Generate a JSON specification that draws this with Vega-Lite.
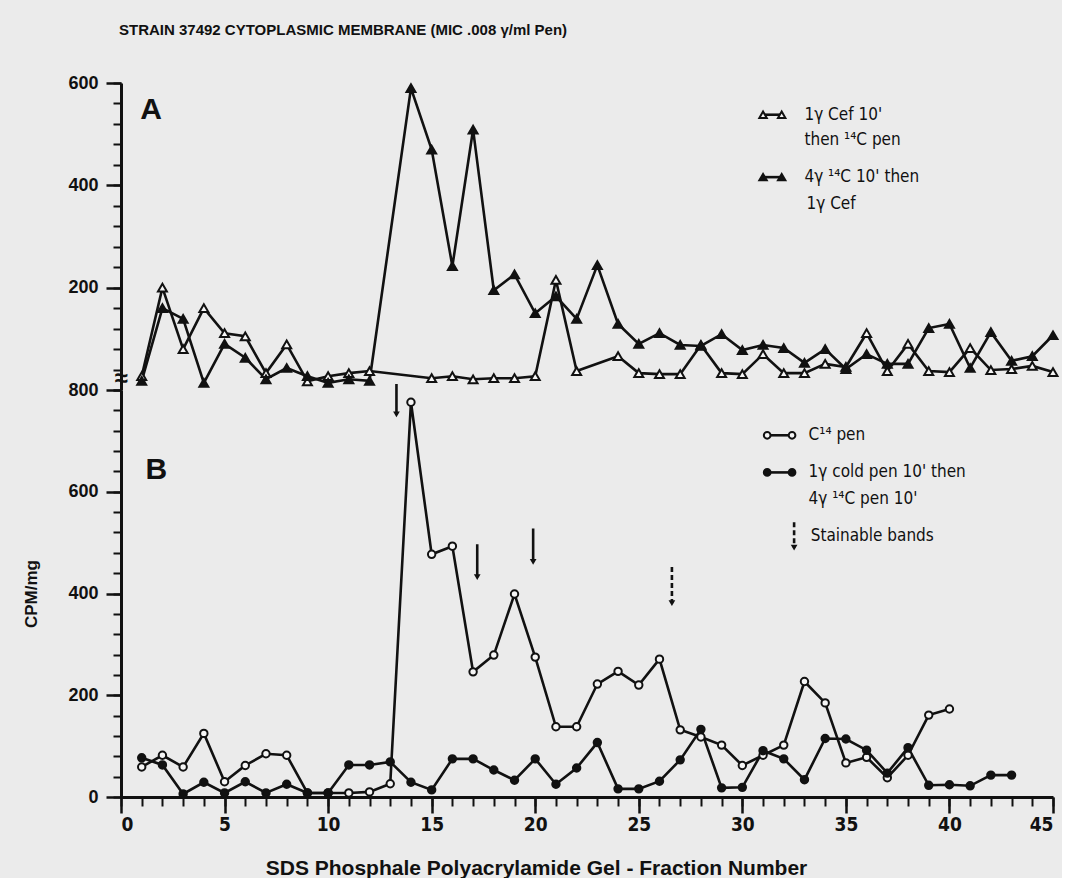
{
  "$schema": "https://vega.github.io/schema/vega-lite/v6.json",
  "background": "#ebebeb",
  "padding": {"left": 22, "top": 23, "right": 0, "bottom": 0},
  "bounds": "flush",
  "title": {
    "text": "STRAIN 37492 CYTOPLASMIC MEMBRANE (MIC .008 γ/ml Pen)",
    "anchor": "start",
    "font": "Liberation Sans, sans-serif",
    "fontSize": 15,
    "fontWeight": "bold",
    "color": "#111",
    "offset": 36,
    "dx": 96
  },
  "config": {
    "view": {"stroke": null},
    "axis": {"grid": false, "domainColor": "#111", "tickColor": "#111", "labelColor": "#111", "titleColor": "#111"}
  },
  "datasets": {
    "A": [
      {"fraction": 1, "cpm": 27, "series": "1γ Cef 10' then 14C pen"},
      {"fraction": 2, "cpm": 200, "series": "1γ Cef 10' then 14C pen"},
      {"fraction": 3, "cpm": 80, "series": "1γ Cef 10' then 14C pen"},
      {"fraction": 4, "cpm": 160, "series": "1γ Cef 10' then 14C pen"},
      {"fraction": 5, "cpm": 111, "series": "1γ Cef 10' then 14C pen"},
      {"fraction": 6, "cpm": 105, "series": "1γ Cef 10' then 14C pen"},
      {"fraction": 7, "cpm": 33, "series": "1γ Cef 10' then 14C pen"},
      {"fraction": 8, "cpm": 89, "series": "1γ Cef 10' then 14C pen"},
      {"fraction": 9, "cpm": 17, "series": "1γ Cef 10' then 14C pen"},
      {"fraction": 10, "cpm": 27, "series": "1γ Cef 10' then 14C pen"},
      {"fraction": 11, "cpm": 33, "series": "1γ Cef 10' then 14C pen"},
      {"fraction": 12, "cpm": 37, "series": "1γ Cef 10' then 14C pen"},
      {"fraction": 15, "cpm": 23, "series": "1γ Cef 10' then 14C pen"},
      {"fraction": 16, "cpm": 27, "series": "1γ Cef 10' then 14C pen"},
      {"fraction": 17, "cpm": 21, "series": "1γ Cef 10' then 14C pen"},
      {"fraction": 18, "cpm": 23, "series": "1γ Cef 10' then 14C pen"},
      {"fraction": 19, "cpm": 23, "series": "1γ Cef 10' then 14C pen"},
      {"fraction": 20, "cpm": 27, "series": "1γ Cef 10' then 14C pen"},
      {"fraction": 21, "cpm": 215, "series": "1γ Cef 10' then 14C pen"},
      {"fraction": 22, "cpm": 37, "series": "1γ Cef 10' then 14C pen"},
      {"fraction": 24, "cpm": 66, "series": "1γ Cef 10' then 14C pen"},
      {"fraction": 25, "cpm": 33, "series": "1γ Cef 10' then 14C pen"},
      {"fraction": 26, "cpm": 31, "series": "1γ Cef 10' then 14C pen"},
      {"fraction": 27, "cpm": 31, "series": "1γ Cef 10' then 14C pen"},
      {"fraction": 28, "cpm": 88, "series": "1γ Cef 10' then 14C pen"},
      {"fraction": 29, "cpm": 33, "series": "1γ Cef 10' then 14C pen"},
      {"fraction": 30, "cpm": 31, "series": "1γ Cef 10' then 14C pen"},
      {"fraction": 31, "cpm": 70, "series": "1γ Cef 10' then 14C pen"},
      {"fraction": 32, "cpm": 33, "series": "1γ Cef 10' then 14C pen"},
      {"fraction": 33, "cpm": 33, "series": "1γ Cef 10' then 14C pen"},
      {"fraction": 34, "cpm": 51, "series": "1γ Cef 10' then 14C pen"},
      {"fraction": 35, "cpm": 45, "series": "1γ Cef 10' then 14C pen"},
      {"fraction": 36, "cpm": 111, "series": "1γ Cef 10' then 14C pen"},
      {"fraction": 37, "cpm": 37, "series": "1γ Cef 10' then 14C pen"},
      {"fraction": 38, "cpm": 90, "series": "1γ Cef 10' then 14C pen"},
      {"fraction": 39, "cpm": 37, "series": "1γ Cef 10' then 14C pen"},
      {"fraction": 40, "cpm": 35, "series": "1γ Cef 10' then 14C pen"},
      {"fraction": 41, "cpm": 82, "series": "1γ Cef 10' then 14C pen"},
      {"fraction": 42, "cpm": 39, "series": "1γ Cef 10' then 14C pen"},
      {"fraction": 43, "cpm": 41, "series": "1γ Cef 10' then 14C pen"},
      {"fraction": 44, "cpm": 47, "series": "1γ Cef 10' then 14C pen"},
      {"fraction": 45, "cpm": 35, "series": "1γ Cef 10' then 14C pen"},
      {"fraction": 1, "cpm": 18, "series": "4γ 14C 10' then 1γ Cef"},
      {"fraction": 2, "cpm": 160, "series": "4γ 14C 10' then 1γ Cef"},
      {"fraction": 3, "cpm": 139, "series": "4γ 14C 10' then 1γ Cef"},
      {"fraction": 4, "cpm": 14, "series": "4γ 14C 10' then 1γ Cef"},
      {"fraction": 5, "cpm": 90, "series": "4γ 14C 10' then 1γ Cef"},
      {"fraction": 6, "cpm": 63, "series": "4γ 14C 10' then 1γ Cef"},
      {"fraction": 7, "cpm": 21, "series": "4γ 14C 10' then 1γ Cef"},
      {"fraction": 8, "cpm": 43, "series": "4γ 14C 10' then 1γ Cef"},
      {"fraction": 9, "cpm": 27, "series": "4γ 14C 10' then 1γ Cef"},
      {"fraction": 10, "cpm": 14, "series": "4γ 14C 10' then 1γ Cef"},
      {"fraction": 11, "cpm": 21, "series": "4γ 14C 10' then 1γ Cef"},
      {"fraction": 12, "cpm": 18, "series": "4γ 14C 10' then 1γ Cef"},
      {"fraction": 14, "cpm": 590, "series": "4γ 14C 10' then 1γ Cef"},
      {"fraction": 15, "cpm": 470, "series": "4γ 14C 10' then 1γ Cef"},
      {"fraction": 16, "cpm": 242, "series": "4γ 14C 10' then 1γ Cef"},
      {"fraction": 17, "cpm": 509, "series": "4γ 14C 10' then 1γ Cef"},
      {"fraction": 18, "cpm": 195, "series": "4γ 14C 10' then 1γ Cef"},
      {"fraction": 19, "cpm": 226, "series": "4γ 14C 10' then 1γ Cef"},
      {"fraction": 20, "cpm": 150, "series": "4γ 14C 10' then 1γ Cef"},
      {"fraction": 21, "cpm": 183, "series": "4γ 14C 10' then 1γ Cef"},
      {"fraction": 22, "cpm": 139, "series": "4γ 14C 10' then 1γ Cef"},
      {"fraction": 23, "cpm": 244, "series": "4γ 14C 10' then 1γ Cef"},
      {"fraction": 24, "cpm": 129, "series": "4γ 14C 10' then 1γ Cef"},
      {"fraction": 25, "cpm": 90, "series": "4γ 14C 10' then 1γ Cef"},
      {"fraction": 26, "cpm": 111, "series": "4γ 14C 10' then 1γ Cef"},
      {"fraction": 27, "cpm": 88, "series": "4γ 14C 10' then 1γ Cef"},
      {"fraction": 28, "cpm": 86, "series": "4γ 14C 10' then 1γ Cef"},
      {"fraction": 29, "cpm": 109, "series": "4γ 14C 10' then 1γ Cef"},
      {"fraction": 30, "cpm": 78, "series": "4γ 14C 10' then 1γ Cef"},
      {"fraction": 31, "cpm": 88, "series": "4γ 14C 10' then 1γ Cef"},
      {"fraction": 32, "cpm": 82, "series": "4γ 14C 10' then 1γ Cef"},
      {"fraction": 33, "cpm": 53, "series": "4γ 14C 10' then 1γ Cef"},
      {"fraction": 34, "cpm": 80, "series": "4γ 14C 10' then 1γ Cef"},
      {"fraction": 35, "cpm": 41, "series": "4γ 14C 10' then 1γ Cef"},
      {"fraction": 36, "cpm": 70, "series": "4γ 14C 10' then 1γ Cef"},
      {"fraction": 37, "cpm": 51, "series": "4γ 14C 10' then 1γ Cef"},
      {"fraction": 38, "cpm": 51, "series": "4γ 14C 10' then 1γ Cef"},
      {"fraction": 39, "cpm": 121, "series": "4γ 14C 10' then 1γ Cef"},
      {"fraction": 40, "cpm": 129, "series": "4γ 14C 10' then 1γ Cef"},
      {"fraction": 41, "cpm": 43, "series": "4γ 14C 10' then 1γ Cef"},
      {"fraction": 42, "cpm": 113, "series": "4γ 14C 10' then 1γ Cef"},
      {"fraction": 43, "cpm": 57, "series": "4γ 14C 10' then 1γ Cef"},
      {"fraction": 44, "cpm": 66, "series": "4γ 14C 10' then 1γ Cef"},
      {"fraction": 45, "cpm": 107, "series": "4γ 14C 10' then 1γ Cef"}
    ],
    "B": [
      {"fraction": 1, "cpm": 59, "series": "C14 pen"},
      {"fraction": 2, "cpm": 82, "series": "C14 pen"},
      {"fraction": 3, "cpm": 59, "series": "C14 pen"},
      {"fraction": 4, "cpm": 125, "series": "C14 pen"},
      {"fraction": 5, "cpm": 30, "series": "C14 pen"},
      {"fraction": 6, "cpm": 62, "series": "C14 pen"},
      {"fraction": 7, "cpm": 85, "series": "C14 pen"},
      {"fraction": 8, "cpm": 82, "series": "C14 pen"},
      {"fraction": 9, "cpm": 8, "series": "C14 pen"},
      {"fraction": 10, "cpm": 8, "series": "C14 pen"},
      {"fraction": 11, "cpm": 8, "series": "C14 pen"},
      {"fraction": 12, "cpm": 10, "series": "C14 pen"},
      {"fraction": 13, "cpm": 26, "series": "C14 pen"},
      {"fraction": 14, "cpm": 776, "series": "C14 pen"},
      {"fraction": 15, "cpm": 477, "series": "C14 pen"},
      {"fraction": 16, "cpm": 493, "series": "C14 pen"},
      {"fraction": 17, "cpm": 246, "series": "C14 pen"},
      {"fraction": 18, "cpm": 279, "series": "C14 pen"},
      {"fraction": 19, "cpm": 399, "series": "C14 pen"},
      {"fraction": 20, "cpm": 275, "series": "C14 pen"},
      {"fraction": 21, "cpm": 138, "series": "C14 pen"},
      {"fraction": 22, "cpm": 138, "series": "C14 pen"},
      {"fraction": 23, "cpm": 222, "series": "C14 pen"},
      {"fraction": 24, "cpm": 247, "series": "C14 pen"},
      {"fraction": 25, "cpm": 220, "series": "C14 pen"},
      {"fraction": 26, "cpm": 271, "series": "C14 pen"},
      {"fraction": 27, "cpm": 132, "series": "C14 pen"},
      {"fraction": 28, "cpm": 118, "series": "C14 pen"},
      {"fraction": 29, "cpm": 102, "series": "C14 pen"},
      {"fraction": 30, "cpm": 62, "series": "C14 pen"},
      {"fraction": 31, "cpm": 82, "series": "C14 pen"},
      {"fraction": 32, "cpm": 102, "series": "C14 pen"},
      {"fraction": 33, "cpm": 227, "series": "C14 pen"},
      {"fraction": 34, "cpm": 185, "series": "C14 pen"},
      {"fraction": 35, "cpm": 67, "series": "C14 pen"},
      {"fraction": 36, "cpm": 78, "series": "C14 pen"},
      {"fraction": 37, "cpm": 38, "series": "C14 pen"},
      {"fraction": 38, "cpm": 82, "series": "C14 pen"},
      {"fraction": 39, "cpm": 161, "series": "C14 pen"},
      {"fraction": 40, "cpm": 173, "series": "C14 pen"},
      {"fraction": 1, "cpm": 77, "series": "1γ cold pen 10' then 4γ 14C pen 10'"},
      {"fraction": 2, "cpm": 63, "series": "1γ cold pen 10' then 4γ 14C pen 10'"},
      {"fraction": 3, "cpm": 6, "series": "1γ cold pen 10' then 4γ 14C pen 10'"},
      {"fraction": 4, "cpm": 29, "series": "1γ cold pen 10' then 4γ 14C pen 10'"},
      {"fraction": 5, "cpm": 8, "series": "1γ cold pen 10' then 4γ 14C pen 10'"},
      {"fraction": 6, "cpm": 30, "series": "1γ cold pen 10' then 4γ 14C pen 10'"},
      {"fraction": 7, "cpm": 8, "series": "1γ cold pen 10' then 4γ 14C pen 10'"},
      {"fraction": 8, "cpm": 25, "series": "1γ cold pen 10' then 4γ 14C pen 10'"},
      {"fraction": 9, "cpm": 8, "series": "1γ cold pen 10' then 4γ 14C pen 10'"},
      {"fraction": 10, "cpm": 8, "series": "1γ cold pen 10' then 4γ 14C pen 10'"},
      {"fraction": 11, "cpm": 63, "series": "1γ cold pen 10' then 4γ 14C pen 10'"},
      {"fraction": 12, "cpm": 63, "series": "1γ cold pen 10' then 4γ 14C pen 10'"},
      {"fraction": 13, "cpm": 69, "series": "1γ cold pen 10' then 4γ 14C pen 10'"},
      {"fraction": 14, "cpm": 29, "series": "1γ cold pen 10' then 4γ 14C pen 10'"},
      {"fraction": 15, "cpm": 14, "series": "1γ cold pen 10' then 4γ 14C pen 10'"},
      {"fraction": 16, "cpm": 75, "series": "1γ cold pen 10' then 4γ 14C pen 10'"},
      {"fraction": 17, "cpm": 75, "series": "1γ cold pen 10' then 4γ 14C pen 10'"},
      {"fraction": 18, "cpm": 53, "series": "1γ cold pen 10' then 4γ 14C pen 10'"},
      {"fraction": 19, "cpm": 33, "series": "1γ cold pen 10' then 4γ 14C pen 10'"},
      {"fraction": 20, "cpm": 75, "series": "1γ cold pen 10' then 4γ 14C pen 10'"},
      {"fraction": 21, "cpm": 25, "series": "1γ cold pen 10' then 4γ 14C pen 10'"},
      {"fraction": 22, "cpm": 57, "series": "1γ cold pen 10' then 4γ 14C pen 10'"},
      {"fraction": 23, "cpm": 107, "series": "1γ cold pen 10' then 4γ 14C pen 10'"},
      {"fraction": 24, "cpm": 16, "series": "1γ cold pen 10' then 4γ 14C pen 10'"},
      {"fraction": 25, "cpm": 16, "series": "1γ cold pen 10' then 4γ 14C pen 10'"},
      {"fraction": 26, "cpm": 31, "series": "1γ cold pen 10' then 4γ 14C pen 10'"},
      {"fraction": 27, "cpm": 73, "series": "1γ cold pen 10' then 4γ 14C pen 10'"},
      {"fraction": 28, "cpm": 133, "series": "1γ cold pen 10' then 4γ 14C pen 10'"},
      {"fraction": 29, "cpm": 18, "series": "1γ cold pen 10' then 4γ 14C pen 10'"},
      {"fraction": 30, "cpm": 19, "series": "1γ cold pen 10' then 4γ 14C pen 10'"},
      {"fraction": 31, "cpm": 91, "series": "1γ cold pen 10' then 4γ 14C pen 10'"},
      {"fraction": 32, "cpm": 75, "series": "1γ cold pen 10' then 4γ 14C pen 10'"},
      {"fraction": 33, "cpm": 34, "series": "1γ cold pen 10' then 4γ 14C pen 10'"},
      {"fraction": 34, "cpm": 115, "series": "1γ cold pen 10' then 4γ 14C pen 10'"},
      {"fraction": 35, "cpm": 114, "series": "1γ cold pen 10' then 4γ 14C pen 10'"},
      {"fraction": 36, "cpm": 92, "series": "1γ cold pen 10' then 4γ 14C pen 10'"},
      {"fraction": 37, "cpm": 47, "series": "1γ cold pen 10' then 4γ 14C pen 10'"},
      {"fraction": 38, "cpm": 97, "series": "1γ cold pen 10' then 4γ 14C pen 10'"},
      {"fraction": 39, "cpm": 23, "series": "1γ cold pen 10' then 4γ 14C pen 10'"},
      {"fraction": 40, "cpm": 24, "series": "1γ cold pen 10' then 4γ 14C pen 10'"},
      {"fraction": 41, "cpm": 22, "series": "1γ cold pen 10' then 4γ 14C pen 10'"},
      {"fraction": 42, "cpm": 43, "series": "1γ cold pen 10' then 4γ 14C pen 10'"},
      {"fraction": 43, "cpm": 43, "series": "1γ cold pen 10' then 4γ 14C pen 10'"}
    ],
    "legA": [
      {"fraction": 31.0, "cpm": 538, "series": "1γ Cef 10' then 14C pen"},
      {"fraction": 31.9, "cpm": 538, "series": "1γ Cef 10' then 14C pen"},
      {"fraction": 31.0, "cpm": 416, "series": "4γ 14C 10' then 1γ Cef"},
      {"fraction": 31.9, "cpm": 416, "series": "4γ 14C 10' then 1γ Cef"}
    ],
    "legB": [
      {"fraction": 31.2, "cpm": 711, "series": "C14 pen"},
      {"fraction": 32.4, "cpm": 711, "series": "C14 pen"},
      {"fraction": 31.2, "cpm": 638, "series": "1γ cold pen 10' then 4γ 14C pen 10'"},
      {"fraction": 32.4, "cpm": 638, "series": "1γ cold pen 10' then 4γ 14C pen 10'"}
    ],
    "textA": [
      {"fraction": 33.0, "cpm": 538, "label": "1γ  Cef 10'"},
      {"fraction": 33.0, "cpm": 488, "label": "then   ¹⁴C pen"},
      {"fraction": 33.0, "cpm": 416, "label": "4γ   ¹⁴C  10' then"},
      {"fraction": 33.1, "cpm": 363, "label": "1γ Cef"}
    ],
    "textB": [
      {"fraction": 33.2, "cpm": 711, "label": "C¹⁴  pen"},
      {"fraction": 33.2, "cpm": 638, "label": "1γ cold pen 10' then"},
      {"fraction": 33.2, "cpm": 585, "label": "4γ   ¹⁴C pen 10'"},
      {"fraction": 33.3, "cpm": 513, "label": "Stainable bands"}
    ],
    "panelA": [{"fraction": 1.45, "cpm": 548, "label": "A"}],
    "panelB": [{"fraction": 1.7, "cpm": 642, "label": "B"}],
    "breakA": [{"fraction": 0, "cpm": 22, "label": "≈"}],
    "arrows": [
      {"fraction": 13.3, "top": 812, "bottom": 752, "trace": "clear"},
      {"fraction": 17.2, "top": 497, "bottom": 432, "trace": "clear"},
      {"fraction": 19.9, "top": 528, "bottom": 462, "trace": "clear"},
      {"fraction": 26.6, "top": 452, "bottom": 381, "trace": "faint"},
      {"fraction": 32.5, "top": 540, "bottom": 490, "trace": "faint"}
    ]
  },
  "spacing": 0,
  "resolve": {"scale": {"fill": "independent", "x": "independent", "y": "independent"}},
  "vconcat": [
    {
      "width": 932,
      "height": 307,
      "layer": [
        {
          "data": {"name": "A"},
          "mark": {"type": "point", "opacity": 0},
          "encoding": {
            "x": {"field": "fraction", "type": "quantitative", "scale": {"domain": [0, 45], "nice": false}, "axis": null},
            "y": {"field": "cpm", "type": "quantitative", "scale": {"domain": [0, 600], "nice": false},
              "axis": {"orient": "left", "values": [0, 40, 80, 120, 160, 200, 240, 280, 320, 360, 400, 440, 480, 520, 560, 600], "labels": false, "tickSize": 8, "tickWidth": 2, "domain": false, "title": null}}
          }
        },
        {
          "data": {"name": "A"},
          "mark": {"type": "line", "color": "#111", "strokeWidth": 2.6},
          "encoding": {
            "x": {"field": "fraction", "type": "quantitative", "scale": {"domain": [0, 45], "nice": false}, "axis": null},
            "y": {"field": "cpm", "type": "quantitative", "scale": {"domain": [0, 600], "nice": false},
              "axis": {"orient": "left", "values": [200, 400, 600], "tickSize": 15, "tickWidth": 2.5, "domainWidth": 3, "labelFont": "Liberation Sans, sans-serif", "labelFontSize": 18, "labelFontWeight": "bold", "labelPadding": 8, "title": null}},
            "detail": {"field": "series"}
          }
        },
        {
          "data": {"name": "A"},
          "mark": {"type": "point", "shape": "triangle-up", "size": 80, "stroke": "#111", "strokeWidth": 2, "opacity": 1, "filled": true},
          "encoding": {
            "x": {"field": "fraction", "type": "quantitative", "scale": {"domain": [0, 45], "nice": false}, "axis": null},
            "y": {"field": "cpm", "type": "quantitative", "scale": {"domain": [0, 600], "nice": false}, "axis": null},
            "fill": {"field": "series", "type": "nominal", "scale": {"domain": ["1γ Cef 10' then 14C pen", "4γ 14C 10' then 1γ Cef"], "range": ["#f6f6f6", "#111111"]}, "legend": null}
          }
        },
        {
          "data": {"name": "legA"},
          "mark": {"type": "line", "color": "#111", "strokeWidth": 2.6},
          "encoding": {
            "x": {"field": "fraction", "type": "quantitative", "scale": {"domain": [0, 45], "nice": false}, "axis": null},
            "y": {"field": "cpm", "type": "quantitative", "scale": {"domain": [0, 600], "nice": false}, "axis": null},
            "detail": {"field": "series"}
          }
        },
        {
          "data": {"name": "legA"},
          "mark": {"type": "point", "shape": "triangle-up", "size": 55, "stroke": "#111", "strokeWidth": 2, "opacity": 1, "filled": true},
          "encoding": {
            "x": {"field": "fraction", "type": "quantitative", "scale": {"domain": [0, 45], "nice": false}, "axis": null},
            "y": {"field": "cpm", "type": "quantitative", "scale": {"domain": [0, 600], "nice": false}, "axis": null},
            "fill": {"field": "series", "type": "nominal", "scale": {"domain": ["1γ Cef 10' then 14C pen", "4γ 14C 10' then 1γ Cef"], "range": ["#f6f6f6", "#111111"]}, "legend": null}
          }
        },
        {
          "data": {"name": "textA"},
          "mark": {"type": "text", "align": "left", "baseline": "middle", "font": "Liberation Sans Narrow, DejaVu Sans Condensed, Liberation Sans, sans-serif", "fontSize": 17, "color": "#111"},
          "encoding": {
            "x": {"field": "fraction", "type": "quantitative", "scale": {"domain": [0, 45], "nice": false}, "axis": null},
            "y": {"field": "cpm", "type": "quantitative", "scale": {"domain": [0, 600], "nice": false}, "axis": null},
            "text": {"field": "label"}
          }
        },
        {
          "data": {"name": "panelA"},
          "mark": {"type": "text", "align": "center", "baseline": "middle", "font": "Liberation Sans, sans-serif", "fontSize": 30, "fontWeight": "bold", "color": "#111"},
          "encoding": {
            "x": {"field": "fraction", "type": "quantitative", "scale": {"domain": [0, 45], "nice": false}, "axis": null},
            "y": {"field": "cpm", "type": "quantitative", "scale": {"domain": [0, 600], "nice": false}, "axis": null},
            "text": {"field": "label"}
          }
        },
        {
          "data": {"name": "breakA"},
          "mark": {"type": "text", "align": "center", "baseline": "middle", "font": "Liberation Sans, sans-serif", "fontSize": 24, "fontWeight": "bold", "color": "#111"},
          "encoding": {
            "x": {"field": "fraction", "type": "quantitative", "scale": {"domain": [0, 45], "nice": false}, "axis": null},
            "y": {"field": "cpm", "type": "quantitative", "scale": {"domain": [0, 600], "nice": false}, "axis": null},
            "text": {"field": "label"}
          }
        }
      ],
      "resolve": {"axis": {"y": "independent"}}
    },
    {
      "width": 932,
      "height": 407,
      "layer": [
        {
          "data": {"name": "B"},
          "mark": {"type": "point", "opacity": 0},
          "encoding": {
            "x": {"field": "fraction", "type": "quantitative", "scale": {"domain": [0, 45], "nice": false},
              "axis": {"orient": "bottom", "values": [0, 1, 2, 3, 4, 5, 6, 7, 8, 9, 10, 11, 12, 13, 14, 15, 16, 17, 18, 19, 20, 21, 22, 23, 24, 25, 26, 27, 28, 29, 30, 31, 32, 33, 34, 35, 36, 37, 38, 39, 40, 41, 42, 43, 44, 45], "labels": false, "tickSize": 9, "tickWidth": 2, "domain": false, "title": null}},
            "y": {"field": "cpm", "type": "quantitative", "scale": {"domain": [0, 800], "nice": false},
              "axis": {"orient": "left", "values": [0, 40, 80, 120, 160, 200, 240, 280, 320, 360, 400, 440, 480, 520, 560, 600, 640, 680, 720, 760, 800], "labels": false, "tickSize": 8, "tickWidth": 2, "domain": false, "title": null}}
          }
        },
        {
          "data": {"name": "B"},
          "mark": {"type": "line", "color": "#111", "strokeWidth": 2.6},
          "encoding": {
            "x": {"field": "fraction", "type": "quantitative", "scale": {"domain": [0, 45], "nice": false},
              "axis": {"orient": "bottom", "values": [0, 5, 10, 15, 20, 25, 30, 35, 40, 45], "tickSize": 16, "tickWidth": 2.5, "domainWidth": 3, "labelFont": "Liberation Sans Narrow, DejaVu Sans Condensed, Liberation Sans, sans-serif", "labelFontSize": 19, "labelFontWeight": "bold", "labelPadding": 2,
                "title": "SDS Phosphale Polyacrylamide Gel - Fraction Number", "titleFont": "Liberation Sans, sans-serif", "titleFontSize": 21, "titleFontWeight": "bold", "titlePadding": 23, "titleX": 415, "titleAlign": "center"}},
            "y": {"field": "cpm", "type": "quantitative", "scale": {"domain": [0, 800], "nice": false},
              "axis": {"orient": "left", "values": [0, 200, 400, 600, 800], "tickSize": 15, "tickWidth": 2.5, "domainWidth": 3, "labelFont": "Liberation Sans, sans-serif", "labelFontSize": 18, "labelFontWeight": "bold", "labelPadding": 8,
                "title": "CPM/mg", "titleFont": "Liberation Sans, sans-serif", "titleFontSize": 17, "titleFontWeight": "bold", "titlePadding": 27}},
            "detail": {"field": "series"}
          }
        },
        {
          "data": {"name": "B"},
          "mark": {"type": "point", "shape": "circle", "size": 55, "stroke": "#111", "strokeWidth": 2, "opacity": 1, "filled": true},
          "encoding": {
            "x": {"field": "fraction", "type": "quantitative", "scale": {"domain": [0, 45], "nice": false}, "axis": null},
            "y": {"field": "cpm", "type": "quantitative", "scale": {"domain": [0, 800], "nice": false}, "axis": null},
            "fill": {"field": "series", "type": "nominal", "scale": {"domain": ["C14 pen", "1γ cold pen 10' then 4γ 14C pen 10'"], "range": ["#f6f6f6", "#111111"]}, "legend": null}
          }
        },
        {
          "data": {"name": "legB"},
          "mark": {"type": "line", "color": "#111", "strokeWidth": 2.6},
          "encoding": {
            "x": {"field": "fraction", "type": "quantitative", "scale": {"domain": [0, 45], "nice": false}, "axis": null},
            "y": {"field": "cpm", "type": "quantitative", "scale": {"domain": [0, 800], "nice": false}, "axis": null},
            "detail": {"field": "series"}
          }
        },
        {
          "data": {"name": "legB"},
          "mark": {"type": "point", "shape": "circle", "size": 45, "stroke": "#111", "strokeWidth": 2, "opacity": 1, "filled": true},
          "encoding": {
            "x": {"field": "fraction", "type": "quantitative", "scale": {"domain": [0, 45], "nice": false}, "axis": null},
            "y": {"field": "cpm", "type": "quantitative", "scale": {"domain": [0, 800], "nice": false}, "axis": null},
            "fill": {"field": "series", "type": "nominal", "scale": {"domain": ["C14 pen", "1γ cold pen 10' then 4γ 14C pen 10'"], "range": ["#f6f6f6", "#111111"]}, "legend": null}
          }
        },
        {
          "data": {"name": "arrows"},
          "mark": {"type": "rule", "color": "#111", "strokeWidth": 2.6},
          "encoding": {
            "x": {"field": "fraction", "type": "quantitative", "scale": {"domain": [0, 45], "nice": false}, "axis": null},
            "y": {"field": "top", "type": "quantitative", "scale": {"domain": [0, 800], "nice": false}, "axis": null},
            "y2": {"field": "bottom"},
            "strokeDash": {"field": "trace", "type": "nominal", "scale": {"domain": ["clear", "faint"], "range": [[1, 0], [5, 3]]}, "legend": null}
          }
        },
        {
          "data": {"name": "arrows"},
          "mark": {"type": "point", "shape": "triangle-down", "size": 45, "filled": true, "color": "#111", "opacity": 1},
          "encoding": {
            "x": {"field": "fraction", "type": "quantitative", "scale": {"domain": [0, 45], "nice": false}, "axis": null},
            "y": {"field": "bottom", "type": "quantitative", "scale": {"domain": [0, 800], "nice": false}, "axis": null}
          }
        },
        {
          "data": {"name": "textB"},
          "mark": {"type": "text", "align": "left", "baseline": "middle", "font": "Liberation Sans Narrow, DejaVu Sans Condensed, Liberation Sans, sans-serif", "fontSize": 17, "color": "#111"},
          "encoding": {
            "x": {"field": "fraction", "type": "quantitative", "scale": {"domain": [0, 45], "nice": false}, "axis": null},
            "y": {"field": "cpm", "type": "quantitative", "scale": {"domain": [0, 800], "nice": false}, "axis": null},
            "text": {"field": "label"}
          }
        },
        {
          "data": {"name": "panelB"},
          "mark": {"type": "text", "align": "center", "baseline": "middle", "font": "Liberation Sans, sans-serif", "fontSize": 30, "fontWeight": "bold", "color": "#111"},
          "encoding": {
            "x": {"field": "fraction", "type": "quantitative", "scale": {"domain": [0, 45], "nice": false}, "axis": null},
            "y": {"field": "cpm", "type": "quantitative", "scale": {"domain": [0, 800], "nice": false}, "axis": null},
            "text": {"field": "label"}
          }
        }
      ],
      "resolve": {"axis": {"x": "independent", "y": "independent"}}
    }
  ]
}
